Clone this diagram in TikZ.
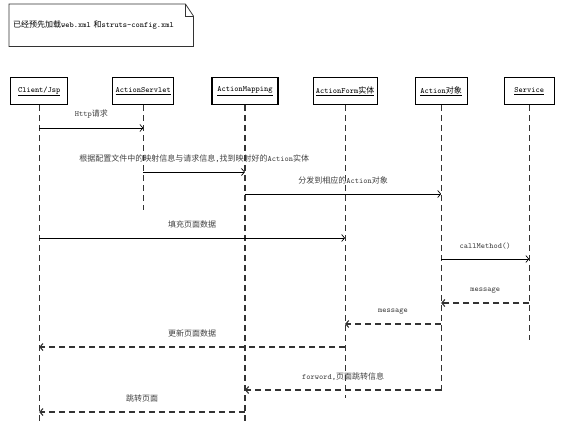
\documentclass[tikz,border=0pt]{standalone}
\usepackage{fontspec}
\newfontfamily\cjk{Noto Sans CJK SC}
\usetikzlibrary{arrows.meta}
\newcommand{\zh}[1]{{\cjk #1}}

\begin{document}
\begin{tikzpicture}[
                x=1pt,
                y=-1pt,
                > ={Straight Barb[length=3pt,width=7pt]},
                font=\ttfamily\fontsize{8}{10}\selectfont,
                actor/.style={draw, line width=1.1pt, minimum height=27pt, anchor=center, inner sep=2pt},
                life/.style={draw=black!80, line width=1.1pt, dash pattern=on 6pt off 4pt},
                call/.style={->, draw=black, line width=0.7pt},
                reply/.style={->, draw=black!80, line width=1.1pt, dash pattern=on 6pt off 4pt},
                lbl/.style={midway, above=8pt, inner sep=1pt, text=black!75},
            ]
            \useasboundingbox (0,0) rectangle (572,431);

            \node[anchor=north west, minimum width=184pt, minimum height=42pt,
                text width=176pt, align=left, inner xsep=4pt] (note) at (9,4)
                {\zh{已经预先加载}web.xml \zh{和}struts-config.xml};
            \draw[black!80, line width=0.8pt]
                (note.north west) -- ([xshift=-8pt]note.north east)
                -- ([yshift=-12pt]note.north east) -- (note.south east)
                -- (note.south west) -- cycle;
            \draw[black!80, line width=0.8pt]
                ([xshift=-8pt]note.north east) -- ([xshift=-8pt,yshift=-12pt]note.north east)
                -- ([yshift=-12pt]note.north east);

            \matrix[column sep=37pt, inner sep=0pt, anchor=north west] at (10,77) {
                \node[actor, minimum width=57pt] (client) {\underline{Client/Jsp}} ; &[7pt]
                \node[actor, minimum width=61pt] (servlet) {\underline{ActionServlet}} ; &
                \node[actor, minimum width=66pt] (mapping) {\underline{ActionMapping}} ; &[-3pt]
                \node[actor, minimum width=64pt] (form) {\underline{ActionForm\zh{实体}}} ; &
                \node[actor, minimum width=52pt] (action) {\underline{Action\zh{对象}}} ; &[-1pt]
                \node[actor, minimum width=50pt] (service) {\underline{Service}} ; \\
            } ;

            % lifelines
            \foreach \who/\stop in {client/425, servlet/210, mapping/425, form/398, action/392, service/340}
                \draw[life] (\who.south) -- (\who |- 0,\stop);

            % messages
            \draw[call] (client |- 0,128) -- node[lbl] {Http\zh{请求}} (servlet |- 0,128);
            \draw[call] (servlet |- 0,172) -- node[lbl]
                {\zh{根据配置文件中的映射信息与请求信息},\zh{找到映射好的}Action\zh{实体}} (mapping |- 0,172);
            \draw[call] (mapping |- 0,194) -- node[lbl] {\zh{分发到相应的}Action\zh{对象}} (action |- 0,194);
            \draw[call] (client |- 0,238) -- node[lbl] {\zh{填充页面数据}} (form |- 0,238);
            \draw[call] (action |- 0,259) -- node[lbl] {callMethod()} (service |- 0,259);
            \draw[reply] (service |- 0,303) -- node[lbl] {message} (action |- 0,303);
            \draw[reply] (action |- 0,324) -- node[lbl] {message} (form |- 0,324);
            \draw[reply] (form |- 0,347) -- node[lbl] {\zh{更新页面数据}} (client |- 0,347);
            \draw[reply] (action |- 0,390) -- node[lbl] {forword,\zh{页面跳转信息}} (mapping |- 0,390);
            \draw[reply] (mapping |- 0,412) -- node[lbl] {\zh{跳转页面}} (client |- 0,412);
        \end{tikzpicture}
\end{document}
